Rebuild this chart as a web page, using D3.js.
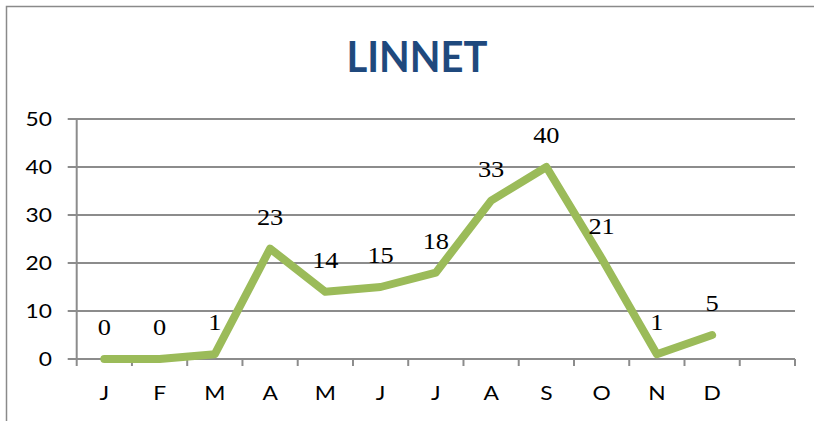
<!DOCTYPE html>
<html>
<head>
<meta charset="utf-8">
<script src="https://cdn.jsdelivr.net/npm/d3@7"></script>
<style>
  body { margin: 0; background: #fff; }
  svg { display: block; }
</style>
</head>
<body>
<script>
// chart data
var title = "LINNET";
var months = ["J", "F", "M", "A", "M", "J", "J", "A", "S", "O", "N", "D"];
var counts = [0, 0, 1, 23, 14, 15, 18, 33, 40, 21, 1, 5];
var yTicks = [0, 10, 20, 30, 40, 50];
var slots = 13; // excel left one empty category at the end

var width = 814, height = 421;
var plot = { left: 76.7, right: 795, top: 119, bottom: 359 };

var svg = d3.select("body").append("svg")
    .attr("width", width)
    .attr("height", height);

svg.append("rect")
    .attr("width", width).attr("height", height)
    .attr("fill", "#fff");

// outer chart border (runs off the right and bottom edges)
svg.append("rect")
    .attr("x", 6.5).attr("y", 6.5)
    .attr("width", width + 20).attr("height", height + 20)
    .attr("fill", "none")
    .attr("stroke", "#8a8a8a")
    .attr("stroke-width", 1.5);

var x = d3.scaleBand()
    .domain(d3.range(slots))
    .range([plot.left, plot.right])
    .padding(0);

var y = d3.scaleLinear()
    .domain([0, 50])
    .range([plot.bottom, plot.top]);

var grid = "#8c8c8c";

function at(px, py, s) {
  return "translate(" + px + "," + py + ") scale(" + s + ",1)";
}

// gridlines + little outside tick
svg.append("g").selectAll("line")
    .data(yTicks)
  .enter().append("line")
    .attr("x1", plot.left - 9)
    .attr("x2", plot.right)
    .attr("y1", function(d) { return y(d); })
    .attr("y2", function(d) { return y(d); })
    .attr("stroke", grid)
    .attr("stroke-width", 2);

// y axis line
svg.append("line")
    .attr("x1", plot.left).attr("x2", plot.left)
    .attr("y1", plot.top).attr("y2", plot.bottom + 7)
    .attr("stroke", grid)
    .attr("stroke-width", 2);

// category boundary ticks
var bounds = d3.range(1, slots + 1).map(function(i) {
  return i < slots ? x(i) : x(slots - 1) + x.bandwidth();
});
svg.append("g").selectAll("line")
    .data(bounds)
  .enter().append("line")
    .attr("x1", function(d) { return d; })
    .attr("x2", function(d) { return d; })
    .attr("y1", plot.bottom)
    .attr("y2", plot.bottom + 7)
    .attr("stroke", grid)
    .attr("stroke-width", 2);

var sans = "Lato, 'Open Sans', sans-serif";

// y labels
svg.append("g").selectAll("text")
    .data(yTicks)
  .enter().append("text")
    .attr("transform", function(d) { return at(52, y(d), 1.2); })
    .attr("dy", "0.36em")
    .attr("text-anchor", "end")
    .attr("font-family", sans)
    .attr("font-size", 19)
    .attr("fill", "#000")
    .text(function(d) { return d; });

// x labels
svg.append("g").selectAll("text")
    .data(months)
  .enter().append("text")
    .attr("transform", function(d, i) { return at(x(i) + x.bandwidth() / 2, 400, 1.2); })
    .attr("text-anchor", "middle")
    .attr("font-family", sans)
    .attr("font-size", 19)
    .attr("fill", "#000")
    .text(function(d) { return d; });

// the line
var line = d3.line()
    .x(function(d, i) { return x(i) + x.bandwidth() / 2; })
    .y(function(d) { return y(d); });

svg.append("path")
    .datum(counts)
    .attr("d", line)
    .attr("fill", "none")
    .attr("stroke", "#9bbb59")
    .attr("stroke-width", 8)
    .attr("stroke-linejoin", "round")
    .attr("stroke-linecap", "round");

// data labels
svg.append("g").selectAll("text")
    .data(counts)
  .enter().append("text")
    .attr("transform", function(d, i) { return at(x(i) + x.bandwidth() / 2, y(d) - 24, 1.1); })
    .attr("text-anchor", "middle")
    .attr("font-family", "'Liberation Serif', 'DejaVu Serif', serif")
    .attr("font-size", 24)
    .attr("fill", "#000")
    .text(function(d) { return d; });

// title, fitted to the width of the original
var t = svg.append("text")
    .attr("font-family", sans)
    .attr("font-weight", "bold")
    .attr("font-size", 42)
    .attr("fill", "#1f497d")
    .text(title);
var bb = t.node().getBBox();
var sx = 141 / bb.width;
t.attr("text-anchor", "middle")
  .attr("transform", "translate(" + (width / 2 + 10) + ",72) scale(" + sx + ",1)");
</script>
</body>
</html>
